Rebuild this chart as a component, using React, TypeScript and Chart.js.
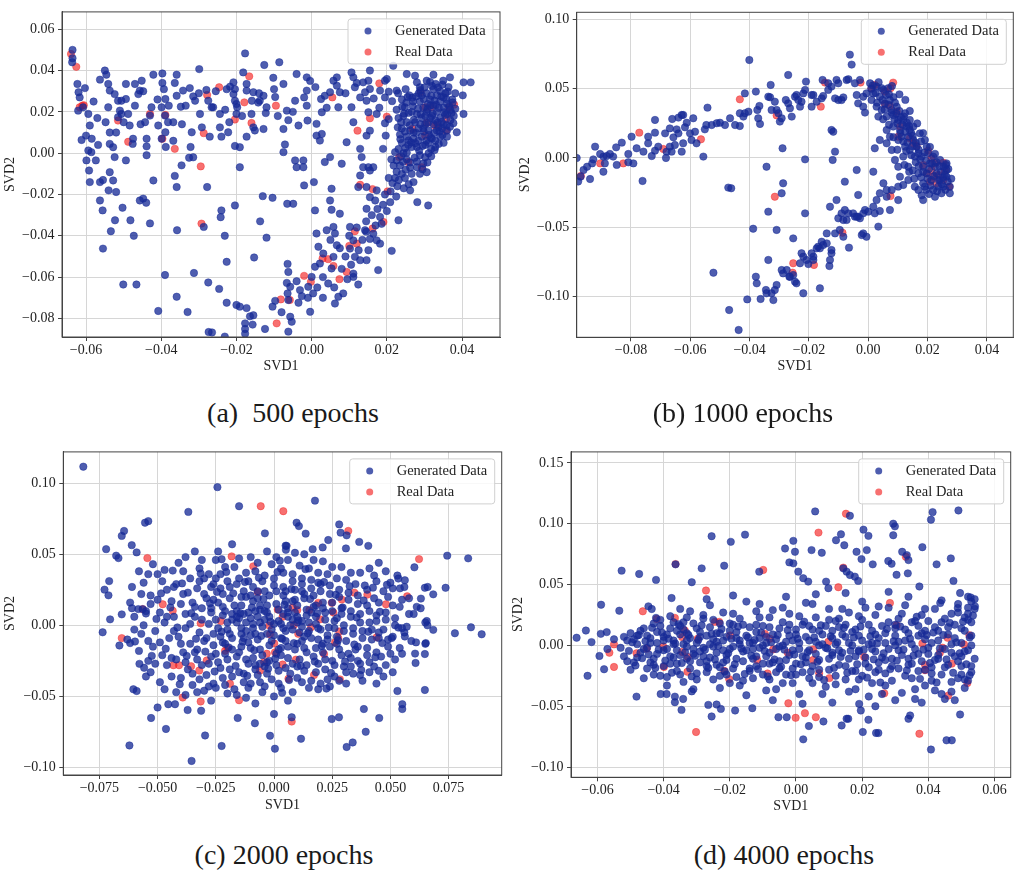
import { useEffect, useRef } from "react";
import { Chart, registerables } from "chart.js";

Chart.register(...registerables);

type Pt = [number, number];

// ---- panel (a) 500 epochs ----
const genA: Pt[] = [
  [-0.0636,0.050],[-0.0637,0.044],[-0.0636,0.046],[-0.0623,0.0335],[-0.062,0.0295],[-0.0603,0.0315],[-0.0617,0.027],[-0.0621,0.0206],[-0.0608,0.0222],[-0.0594,0.019],[-0.059,0.0134],[-0.0612,0.0064],[-0.060,0.0085],[-0.0594,0.0013],[-0.0586,0.0005],[-0.0599,-0.0035],[-0.0592,-0.0084],[-0.059,-0.014],[-0.0574,-0.0035],[-0.0563,-0.0229],[-0.0556,-0.0277],[-0.0555,-0.0462],[-0.0563,-0.014],[-0.0555,-0.013],[-0.055,0.040],[-0.0546,0.038],[-0.0563,0.0356],[-0.0541,0.0335],[-0.0537,0.0303],[-0.0524,0.0286],[-0.0541,0.0222],[-0.0515,0.0254],[-0.051,0.0206],[-0.0537,0.010],[-0.0537,0.0045],[-0.0528,0.0029],[-0.0524,-0.0019],[-0.0537,-0.0092],[-0.0528,-0.0132],[-0.054,-0.018],[-0.052,-0.0188],[-0.0523,-0.0325],[-0.0534,-0.0378],[-0.0506,0.0254],[-0.0494,0.0335],[-0.0494,0.0262],[-0.0515,0.0174],[-0.0506,0.019],[-0.0488,0.019],[-0.0484,0.0134],[-0.0494,-0.0035],[-0.0503,-0.0264],[-0.0482,-0.0325],[-0.0473,-0.040],[-0.0501,-0.0636],[-0.0466,-0.0636],[-0.047,0.0335],[-0.0461,0.0286],[-0.0457,0.0303],[-0.0452,0.0351],[-0.0448,0.030],[-0.0476,0.0045],[-0.0475,0.007],[-0.0457,-0.0229],[-0.0448,-0.022],[-0.044,-0.024],[-0.043,-0.034],[-0.0421,0.038],[-0.0426,0.0222],[-0.043,0.0182],[-0.0443,0.0150],[-0.0439,0.0070],[-0.0439,0.0033],[-0.0439,-0.001],[-0.0421,-0.0132],[-0.0397,0.0386],[-0.0397,0.034],[-0.0393,0.0310],[-0.0389,0.0262],[-0.0399,0.0222],[-0.039,0.0182],[-0.0408,0.0134],[-0.0399,0.007],[-0.0388,0.003],[-0.0389,0.0101],[-0.0382,0.0150],[-0.0368,0.0150],[-0.0359,0.038],[-0.0364,0.034],[-0.0359,0.0278],[-0.0368,0.006],[-0.0364,-0.011],[-0.0359,-0.0164],[-0.0346,-0.0059],[-0.0326,-0.0022],[-0.0315,-0.002],[-0.0358,-0.0373],[-0.039,-0.059],[-0.0359,-0.0695],[-0.0408,-0.0764],[-0.033,-0.0769],[-0.0348,0.0225],[-0.0342,0.0303],[-0.0324,0.0315],[-0.0315,0.0275],[-0.031,0.0254],[-0.0297,0.019],[-0.0292,0.0125],[-0.0319,0.0101],[-0.0322,0.0030],[-0.0299,0.0407],[-0.028,0.0306],[-0.0275,0.0254],[-0.0266,0.0222],[-0.0262,0.0222],[-0.0271,0.0080],[-0.0278,-0.0164],[-0.0287,-0.0357],[-0.0313,-0.058],[-0.0275,-0.0626],[-0.0274,-0.0866],[-0.0265,-0.0868],[-0.0246,-0.0657],[-0.024,-0.0277],[-0.0242,-0.031],[-0.0231,-0.040],[-0.0226,-0.0526],[-0.0226,-0.0724],[-0.0231,-0.0888],[-0.0244,0.0125],[-0.024,0.0080],[-0.0222,0.0101],[-0.0219,0.0150],[-0.0244,0.019],[-0.0217,0.0322],[-0.0208,0.0343],[-0.0204,0.0310],[-0.0200,0.0238],[-0.0200,0.019],[-0.0226,0.0310],[-0.0208,0.0286],[-0.0204,0.0254],[-0.0198,0.0222],[-0.0204,0.0035],[-0.0191,0.0029],[-0.0191,-0.0068],[-0.0204,-0.0253],[-0.0200,-0.0735],[-0.0191,-0.0743],[-0.0173,-0.075],[-0.0177,-0.0824],[-0.0177,-0.0851],[-0.0177,-0.0874],[-0.0164,-0.0790],[-0.0155,-0.0785],[-0.0157,-0.0830],[-0.0177,0.0483],[-0.0182,0.0391],[-0.0173,0.0335],[-0.0173,0.0303],[-0.0155,0.0295],[-0.0173,0.0080],[-0.0155,0.0125],[-0.0151,0.0110],[-0.0159,0.0254],[-0.0142,0.0245],[-0.0138,0.0254],[-0.0153,-0.0505],[-0.0137,-0.033],[-0.013,-0.0208],[-0.0126,0.0427],[-0.0128,0.0278],[-0.012,0.0222],[-0.0122,0.0194],[-0.0128,0.0117],[-0.012,-0.0409],[-0.0124,-0.0851],[-0.0104,-0.0743],[-0.0097,-0.0715],[-0.0102,0.0365],[-0.0100,0.0310],[-0.0097,0.0272],[-0.0104,-0.0216],[-0.0086,0.044],[-0.0075,0.0335],[-0.0066,0.0206],[-0.0062,0.0160],[-0.0075,0.0117],[-0.0071,0.0042],[-0.0075,0.0005],[-0.0065,-0.0245],[-0.0049,-0.0245],[-0.0064,-0.0536],[-0.0062,-0.0575],[-0.0066,-0.0628],[-0.0057,-0.0647],[-0.0064,-0.0679],[-0.0062,-0.0711],[-0.0057,-0.0792],[-0.0053,-0.0816],[-0.0062,-0.0864],[-0.004,0.0383],[-0.0044,0.0254],[-0.0035,0.0134],[-0.0044,-0.0035],[-0.004,-0.0068],[-0.0022,-0.0035],[-0.0022,-0.0068],[-0.002,-0.0156],[-0.0013,0.0303],[-0.0013,0.0230],[-0.0011,0.0158],[-0.0013,0.0367],[-0.0004,0.0350],[0.0009,-0.0277],[0.0006,-0.0140],[0.0013,-0.0389],[0.0018,-0.0453],[0.0022,-0.0534],[0.0009,-0.0550],[0.0000,-0.0599],[-0.0009,-0.0647],[0.0004,-0.0679],[-0.0004,-0.0768],[-0.0031,-0.0663],[-0.0026,-0.0692],[-0.0035,-0.0724],[0.0013,0.0085],[0.0022,0.0061],[0.0027,0.0093],[0.0013,0.0142],[0.0027,0.0198],[0.0025,0.0262],[0.0035,0.0278],[0.0049,0.0295],[0.0058,0.0351],[0.0067,0.0327],[0.0035,-0.0043],[0.0049,-0.0019],[0.0053,-0.0172],[0.0049,-0.0229],[0.0053,-0.0274],[0.0040,-0.0373],[0.0058,-0.0357],[0.0062,-0.0389],[0.0067,-0.0446],[0.0031,-0.0486],[0.0058,-0.0502],[0.0053,-0.0558],[0.0044,-0.0631],[0.0062,-0.0728],[0.0071,-0.0695],[0.0084,-0.0679],[0.0075,-0.0293],[0.008,-0.0051],[0.0071,0.0222],[0.0075,0.0295],[0.0067,0.0367],[0.0093,0.0053],[0.0106,0.0391],[0.0111,0.0367],[0.0115,0.0319],[0.0106,0.0222],[0.0111,0.0150],[0.0129,0.0270],[0.0142,0.0295],[0.0137,0.0343],[0.0129,0.0021],[0.0133,-0.0019],[0.0137,-0.0068],[0.0129,-0.0108],[0.0124,-0.0164],[0.0102,-0.0357],[0.0111,-0.0422],[0.0102,-0.0462],[0.0115,-0.0502],[0.0129,-0.0518],[0.0111,-0.0583],[0.0124,-0.0636],[0.0111,-0.0599],[0.0155,0.040],[0.0151,0.0351],[0.0155,0.0311],[0.0146,0.0254],[0.0151,0.0198],[0.0155,0.0109],[0.0146,0.0085],[0.0151,-0.0068],[0.0155,-0.0084],[0.0164,-0.0068],[0.0146,-0.0164],[0.0155,-0.0213],[0.0169,-0.0229],[0.0173,-0.0180],[0.0146,-0.0269],[0.0142,-0.0373],[0.0155,-0.0415],[0.0164,-0.0390],[0.0173,-0.0422],[0.0182,-0.0438],[0.0151,-0.0470],[0.0146,-0.0518],[0.0177,-0.0566],[0.0182,-0.0309],[0.0186,-0.0342],[0.019,0.0021],[0.0182,0.0303],[0.0195,0.0351],[0.020,0.0359],[0.0173,0.0190],[0.0209,-0.0237],[0.0213,-0.0473],[0.0231,-0.0325],[0.0217,0.0423],[0.0226,0.0303],[0.0248,0.0222],[0.0253,0.0383],[0.0275,0.0375],[0.0280,0.0343],[0.0288,0.0319],[0.0306,0.0351],[0.0324,0.0380],[0.0350,0.0351],[0.0368,0.0367],[0.0382,0.029],[0.0404,0.0343],[0.0423,0.0343],[0.0402,0.028],[0.0404,0.019],[0.0386,0.0101],[0.0281,-0.0237],[0.031,-0.0253],[0.0262,-0.0180],[0.0271,-0.0140],[0.0288,-0.0100],[0.0306,-0.0092],[0.0280,-0.0068],
  [0.0226,-0.0035],[0.0235,-0.0060],[0.0240,-0.0100],[0.0248,-0.0120],[0.0226,-0.0090],[0.0222,-0.0120],[0.0231,0.0020],[0.0240,0.0050],[0.0244,0.0000],[0.0253,-0.0030],[0.0262,-0.0070],[0.0266,0.0030],[0.0253,0.0080],[0.0240,0.0120],[0.0231,0.0170],[0.0226,0.0210],[0.0244,0.0180],[0.0253,0.0150],[0.0262,0.0110],[0.0271,0.0070],[0.0280,0.0030],[0.0288,-0.0010],[0.0297,-0.0050],[0.0275,0.0150],[0.0284,0.0120],[0.0293,0.0080],[0.0302,0.0040],[0.0311,0.0000],[0.0266,0.0200],[0.0280,0.0190],[0.0293,0.0170],[0.0302,0.0140],[0.0311,0.0110],[0.0320,0.0070],[0.0329,0.0030],[0.0288,0.0250],[0.0297,0.0220],[0.0306,0.0200],[0.0315,0.0170],[0.0324,0.0140],[0.0333,0.0110],[0.0342,0.0080],[0.0351,0.0050],[0.0306,0.0290],[0.0315,0.0260],[0.0324,0.0230],[0.0333,0.0200],[0.0342,0.0170],[0.0351,0.0140],[0.0360,0.0110],[0.0324,0.0310],[0.0333,0.0280],[0.0342,0.0250],[0.0351,0.0220],[0.0360,0.0190],[0.0369,0.0160],[0.0342,0.0300],[0.0351,0.0270],[0.0360,0.0240],[0.0369,0.0210],[0.0378,0.0180],[0.0364,0.0320],[0.0374,0.0260],[0.0311,0.0050],[0.0320,0.0180],[0.0297,0.0120],[0.0284,0.0060],[0.0271,0.0100],[0.0257,0.0040],[0.0235,0.0090],[0.0329,0.0160],[0.0338,0.0220],[0.0315,0.0230],[0.0302,0.0180],[0.0293,0.0280],[0.0356,0.0290],[0.0347,0.0120],[0.0329,0.0060],[0.0360,0.0080],[0.0250,-0.0080],[0.0280,-0.0040],[0.0266,-0.0100],[0.0302,-0.0020],[0.0318,0.0020],[0.0230,0.0290],[0.0240,0.0260],[0.0250,0.0310],[0.0260,0.0280],[0.0270,0.0250],[0.0315,0.0345],[0.0330,0.0335],
  [0.0215,-0.0145],[0.0228,-0.0160],[0.0245,-0.0170],[0.0258,-0.0150],[0.0232,-0.0130],[0.0218,-0.0060],[0.0222,0.0005],[0.0238,-0.0015],[0.0249,0.0025],[0.0258,0.0062],[0.0236,0.0068],[0.0229,0.0125],[0.0248,0.0105],[0.0261,0.0135],[0.0272,0.0162],[0.0258,0.0195],[0.0241,0.0225],[0.0252,0.0245],[0.0269,0.0228],[0.0283,0.0215],[0.0278,0.0275],[0.0289,0.0305],[0.0298,0.0262],[0.0309,0.0238],[0.0318,0.0278],[0.0327,0.0255],[0.0336,0.0318],[0.0345,0.0275],[0.0358,0.0262],[0.0366,0.0228],[0.0372,0.0195],[0.0355,0.0185],[0.0346,0.0152],[0.0338,0.0125],[0.0326,0.0098],[0.0317,0.0075],[0.0305,0.0060],[0.0295,0.0035],[0.0286,0.0012],[0.0274,-0.0022],[0.0262,-0.0045],[0.0295,-0.0078],[0.0308,-0.0045],[0.0318,-0.0015],[0.0327,0.0015],[0.0338,0.0045],[0.0348,0.0088],[0.0359,0.0135],[0.0368,0.0128],[0.0377,0.0145],[0.0382,0.0215],[0.0375,0.0245],[0.0362,0.0298],[0.0348,0.0332],[0.0320,0.0325],[0.0300,0.0318],[0.0285,0.0290],[0.0268,0.0268],[0.0255,0.0272],[0.0246,0.0192],[0.0238,0.0150],[0.0289,0.0140],[0.0298,0.0105],[0.0310,0.0148],[0.0322,0.0192],[0.0331,0.0235],[0.0308,0.0213],[0.0290,0.0188],[0.0278,0.0098],[0.0265,0.0052],[0.0253,0.0002],[0.0243,-0.0042],[0.0276,0.0048],[0.0312,0.0088],[0.0335,0.0148],[0.0352,0.0198],[0.0340,0.0105],[0.0210,-0.0185],[0.0225,-0.0210],[0.0205,-0.0120],[0.0212,-0.0030],[0.0197,0.0085],[0.0205,0.0165],[0.0214,0.0252],[0.0205,0.0298],[0.0195,0.0145],
  [-0.0580,0.0250],[-0.0570,0.0170],[-0.0585,0.0070],[-0.0568,0.0040],[-0.0548,0.0150],[-0.0520,0.0100],[-0.0500,0.0150],[-0.0470,0.0230],[-0.0455,0.0140],[-0.0410,0.0260],[-0.0380,0.0230],[-0.0345,0.0140],[-0.0335,0.0230],[-0.0300,0.0290],[-0.0255,0.0300],[-0.0230,0.0210],[-0.0185,0.0180],[-0.0160,0.0190],[-0.0140,0.0290],[-0.0090,0.0180],[-0.0050,0.0200],[-0.0020,0.0270],[0.0010,0.0320],[0.0040,0.0220],[0.0090,0.0290],[0.0120,0.0340],[0.0165,0.0265],[0.0180,0.0220],[0.0195,0.0270],
  [0.0030,-0.0600],[0.0015,-0.0650],[0.0080,-0.0560],[0.0090,-0.0500],[0.0075,-0.0460],[0.0100,-0.0400],[0.0120,-0.0360],[0.0135,-0.0420],[0.0145,-0.0330],[0.0160,-0.0300],[0.0175,-0.0270],[0.0190,-0.0250],[0.0195,-0.0200],[0.0200,-0.0280],[0.0170,-0.0350],[0.0125,-0.0470],[0.0095,-0.0610],[-0.0010,-0.0700],[-0.0040,-0.0620],[-0.0080,-0.0770],[0.0060,-0.0650],[0.0030,-0.0700],[0.0105,-0.0540],[0.0050,-0.0420],[0.0145,-0.0380],
];
const realA: Pt[] = [
  [-0.064,0.048],[-0.0626,0.0418],[-0.0617,0.0222],[-0.061,0.023],[-0.0606,0.0232],[-0.0515,0.0158],[-0.0488,0.0055],[-0.043,0.019],[-0.0397,0.007],[-0.0389,0.0185],[-0.0364,0.0021],[-0.0295,-0.0064],[-0.0293,-0.0341],[-0.0287,0.0097],[-0.0278,0.0282],[-0.0246,0.0319],[-0.0204,0.0163],[-0.0179,0.0246],[-0.0166,0.0372],[-0.016,0.0146],[-0.0095,0.023],[-0.0093,-0.0824],[-0.0082,-0.0708],[-0.0058,-0.0711],[-0.002,-0.0594],[-0.0002,-0.0623],[0.0029,-0.051],[0.0044,-0.0513],[0.0055,0.027],[0.0058,-0.0546],[0.0074,-0.061],[0.0093,-0.0575],[0.01,-0.0449],[0.0115,-0.0378],[0.012,-0.0438],[0.0122,0.0109],[0.0129,-0.0153],[0.0155,0.0169],[0.0162,-0.0174],[0.0162,-0.0365],[0.018,0.0338],[0.0191,-0.0333],[0.02,0.0177],[0.0202,-0.0185],[0.0233,-0.0019],[0.0257,-0.0043],[0.0268,0.0117],[0.029,0.0296],[0.0293,-0.0068],[0.0302,0.0085],[0.0306,0.0146],[0.0302,0.0222],[0.0317,0.0222],[0.0328,0.0134],[0.0335,0.0137],[0.0358,0.0166],[0.0358,0.0109],[0.0366,0.0222],[0.0379,0.0235],
];

// ---- panel (b) 1000 epochs ----
const genB: Pt[] = [
  [-0.0983,0.000],[-0.0978,-0.017],[-0.097,-0.0135],[-0.096,-0.0087],[-0.0948,-0.0063],[-0.0931,-0.0039],[-0.0927,-0.001],[-0.0938,-0.0152],[-0.0921,0.0082],[-0.0904,0.0029],[-0.0893,0.001],[-0.0888,-0.0039],[-0.0882,0.0014],[-0.0871,0.0029],[-0.086,0.001],[-0.0848,-0.005],[-0.0893,-0.0099],[-0.085,0.0077],[-0.0831,0.0111],[-0.0809,0.0029],[-0.0809,-0.0031],[-0.0792,-0.0039],[-0.0781,0.007],[-0.0758,0.0046],[-0.0761,-0.0166],[-0.0798,0.0154],[-0.0742,0.0154],[-0.0742,0.0106],[-0.073,0.0014],[-0.0719,0.0053],[-0.0719,0.0275],[-0.0719,0.0183],[-0.0708,0.0082],[-0.0682,0.000],[-0.068,0.0046],[-0.0669,0.0082],[-0.0663,0.0046],[-0.0657,0.0149],[-0.0652,0.0094],[-0.0685,0.0178],[-0.0669,0.0214],[-0.0661,0.0282],[-0.0646,0.0207],[-0.064,0.0178],[-0.0629,0.0046],[-0.0624,0.0106],[-0.0618,0.0222],[-0.064,0.0292],[-0.0629,0.0311],[-0.0624,0.0311],[-0.0612,0.0255],[-0.059,0.0287],[-0.0601,0.0178],[-0.0596,0.013],[-0.0584,0.019],[-0.0579,0.0106],[-0.0556,0.001],[-0.0551,0.0207],[-0.0546,0.0238],[-0.0542,0.0364],[-0.0528,0.0238],[-0.0511,0.0251],[-0.05,0.0255],[-0.0483,0.0238],[-0.0466,0.0287],[-0.0449,0.0238],[-0.0433,0.0231],[-0.0433,0.0323],[-0.0472,-0.0214],[-0.0522,-0.0829],[-0.0469,-0.1099],[-0.0437,-0.1243],[-0.0416,0.0467],[-0.0401,0.0708],[-0.0421,0.0299],[-0.0416,0.0323],[-0.0404,0.0335],[-0.0379,0.048],[-0.0374,0.0347],[-0.0367,0.0376],[-0.0371,0.0287],[-0.0365,0.0246],[-0.0343,-0.0063],[-0.0337,0.0443],[-0.0331,0.0439],[-0.0326,0.0347],[-0.0315,0.0407],[-0.0309,0.0347],[-0.0303,0.0323],[-0.0298,0.0263],[-0.0292,0.0287],[-0.0329,0.0528],[-0.0289,0.007],[-0.027,0.060],[-0.0278,0.0419],[-0.027,0.0395],[-0.0264,0.0359],[-0.0258,0.0299],[-0.0247,0.0443],[-0.0242,0.0455],[-0.0236,0.0419],[-0.023,0.0371],[-0.0225,0.0407],[-0.0219,0.0467],[-0.0213,0.0492],[-0.021,0.0552],[-0.0191,0.0455],[-0.0185,0.0455],[-0.0174,0.0407],[-0.0191,0.0371],[-0.0157,0.0431],[-0.0152,0.0448],[-0.0135,0.0492],[-0.0124,0.0516],[-0.0112,0.0431],[-0.0101,0.0419],[-0.009,0.0419],[-0.0084,0.0438],[-0.0213,-0.001],[-0.0124,0.0202],[-0.0118,0.019],[-0.0112,0.0046],[-0.012,-0.0014],[-0.0154,0.0564],[-0.0135,0.054],[-0.0107,0.0564],[-0.0101,0.054],[-0.0073,0.0564],[-0.0067,0.0569],[-0.0062,0.0747],[-0.0056,0.0675],[-0.0045,0.054],[-0.0039,0.0455],[-0.0034,0.0395],[-0.0028,0.0564],[-0.0017,0.0371],[-0.0011,0.0328],[-0.0017,0.0443],[-0.0006,0.0467],
  [0.0006,0.054],[0.0017,0.0467],[0.0028,0.0516],[0.0011,0.0419],[0.0039,0.0443],[0.0051,0.0492],[0.0067,0.0504],[0.0028,0.0371],[0.0045,0.0347],[0.0056,0.0395],[0.0073,0.0419],[0.0079,0.0347],[0.0034,0.0299],[0.0062,0.0299],[0.0084,0.0311],[0.0096,0.0371],[0.0101,0.0275],[0.0084,0.0227],[0.0107,0.0202],[0.0118,0.0275],[0.0129,0.0227],[0.0112,0.0154],[0.0135,0.0154],[0.014,0.0202],[0.0152,0.013],[0.0124,0.0082],[0.014,0.0058],[0.0163,0.0082],[0.0169,0.0034],[0.0157,0.001],[0.018,0.001],[0.0185,-0.0063],[0.0202,0.0034],[0.0208,-0.0039],[0.0225,-0.0063],[0.0197,-0.0111],[0.0213,-0.0159],[0.023,-0.0111],[0.0242,-0.0159],[0.0253,-0.0207],[0.0264,-0.0135],[0.0275,-0.0207],[0.0236,-0.0207],[0.0247,-0.0255],[0.0219,-0.0231],[0.0185,-0.0183],[0.0169,-0.0111],[0.0135,-0.0063],[0.0118,0.001],[0.0107,-0.0135],[0.0101,-0.0063],[0.009,-0.0014],[0.0079,0.0058],[0.0062,0.0106],[0.0039,0.013],[0.0022,0.007],[0.0062,0.0202],[0.0073,0.0154],[0.0101,0.013],[0.0124,0.0323],[0.014,0.0275],[0.0152,0.0227],[0.0174,0.0178],[0.0191,0.013],[0.0197,0.0082],[0.0219,0.001],[0.0242,-0.0014],[0.0253,-0.0063],[0.0264,-0.0039],[0.0191,-0.0207],[0.0157,-0.0207],[0.0135,-0.0159],[0.0118,-0.0195],[0.0101,-0.0207],[0.0185,-0.0304],[0.0169,-0.0231],[0.0225,-0.028],[0.0264,-0.0087],[0.0275,-0.0255],
  [0.0015,0.0525],[0.0035,0.0548],[0.0045,0.0505],[0.0025,0.0470],[0.0060,0.0455],[0.0048,0.0420],[0.0070,0.0460],[0.0085,0.0440],[0.0068,0.0385],[0.0090,0.0400],[0.0055,0.0350],[0.0078,0.0330],[0.0095,0.0320],[0.0105,0.0340],[0.0088,0.0280],[0.0110,0.0295],[0.0120,0.0300],[0.0098,0.0250],[0.0115,0.0240],[0.0130,0.0255],[0.0138,0.0230],[0.0108,0.0180],[0.0125,0.0190],[0.0145,0.0180],[0.0118,0.0120],[0.0132,0.0110],[0.0150,0.0160],[0.0160,0.0110],[0.0128,0.0050],[0.0148,0.0085],[0.0170,0.0060],[0.0178,0.0120],[0.0145,0.0020],[0.0160,-0.0030],[0.0175,-0.0010],[0.0190,0.0040],[0.0195,-0.0020],[0.0150,-0.0090],[0.0170,-0.0060],[0.0185,-0.0100],[0.0205,-0.0080],[0.0215,-0.0040],[0.0230,-0.0030],[0.0178,-0.0140],[0.0200,-0.0150],[0.0222,-0.0130],[0.0245,-0.0100],[0.0258,-0.0120],[0.0268,-0.0170],[0.0248,-0.0190],[0.0232,-0.0240],[0.0210,-0.0200],[0.0195,-0.0230],[0.0260,-0.0230],[0.0270,-0.0080],[0.0240,-0.0060],[0.0280,-0.0150],[0.0205,-0.0260],[0.0180,-0.0270],[0.0155,-0.0150],[0.0138,-0.0100],[0.0122,-0.0050],[0.0098,0.0060],[0.0085,0.0150],[0.0070,0.0240],[0.0050,0.0280],[0.0030,0.0400],[0.0010,0.0500],[0.0105,0.0460],[0.0080,0.0520],[0.0125,0.0420],[0.0140,0.0340],[0.0165,0.0250],[0.0185,0.0180],[0.0208,0.0080],[0.0225,0.0030],[0.0238,-0.0160],[0.0252,-0.0140],[0.0262,-0.0050],
  [-0.0408,-0.1022],[-0.0388,-0.0511],[-0.0379,-0.0858],[-0.0376,-0.0906],[-0.0363,-0.1019],[-0.0345,-0.0954],[-0.0343,-0.0978],[-0.0337,-0.0737],[-0.0337,-0.0388],[-0.0326,-0.0978],[-0.032,-0.1027],[-0.0315,-0.0954],[-0.0309,-0.0918],[-0.0292,-0.081],[-0.0287,-0.0834],[-0.0275,-0.081],[-0.0266,-0.0858],[-0.0264,-0.0858],[-0.0253,-0.0846],[-0.0247,-0.0894],[-0.0242,-0.0906],[-0.023,-0.0761],[-0.0225,-0.0689],[-0.0219,-0.0713],[-0.0219,-0.0978],[-0.0208,-0.0737],[-0.0202,-0.0767],[-0.0191,-0.0689],[-0.0185,-0.0713],[-0.0185,-0.0737],[-0.0174,-0.0653],[-0.0169,-0.0641],[-0.0163,-0.0653],[-0.0157,-0.0605],[-0.0152,-0.0629],[-0.014,-0.0617],[-0.014,-0.0545],[-0.0131,-0.0781],[-0.0129,-0.0737],[-0.0129,-0.0352],[-0.0124,-0.0689],[-0.0124,-0.0665],[-0.0112,-0.0545],[-0.0107,-0.0304],[-0.0101,-0.0436],[-0.0096,-0.052],[-0.009,-0.04],[-0.0084,-0.0448],[-0.0084,-0.0569],[-0.0079,-0.0376],[-0.0079,-0.0171],[-0.0073,-0.0448],[-0.0065,-0.0648],[-0.0067,-0.04],[-0.0051,-0.04],[-0.0045,-0.0424],[-0.0039,-0.0424],[-0.0039,-0.0087],[-0.0034,-0.0424],[-0.0034,-0.0267],[-0.0028,-0.0436],[-0.0022,-0.0557],[-0.0017,-0.0545],[-0.0017,-0.04],[-0.0011,-0.0376],[-0.0006,-0.0569],[0.0,-0.0388],[0.0017,-0.0352],[0.0017,-0.0099],[0.0022,-0.04],[0.0028,-0.0304],[0.0034,-0.0496],[0.0039,-0.0383],[0.0062,-0.0231],[0.0079,-0.0231],[0.0062,-0.028],[0.0039,-0.0255],[0.0051,-0.0183],[0.0073,-0.0376],[0.0101,-0.0304],[-0.0253,-0.0581],[-0.0287,-0.0183],[-0.0292,-0.0255],[-0.0309,-0.052],[-0.0213,-0.04],[-0.0163,-0.0942],[-0.0462,-0.0219],
];
const realB: Pt[] = [
  [-0.0969,-0.013],[-0.0904,-0.0039],[-0.0826,-0.0039],[-0.0772,0.0183],[-0.0691,0.0065],[-0.0564,0.0135],[-0.0433,0.0424],[-0.0309,0.0308],[-0.0315,-0.028],[-0.0253,-0.0761],[-0.0255,-0.0829],[-0.0183,-0.0773],[-0.016,0.0371],[-0.0146,0.0545],[-0.0087,-0.054],[-0.0026,0.0545],[0.0011,0.0504],[0.0022,0.0528],[0.0056,0.048],[0.0056,0.039],[0.0073,0.0376],[0.0075,0.0504],[0.0084,0.0545],[0.0075,-0.0275],[0.0096,0.0335],[0.0107,0.0227],[0.0101,0.0154],[0.014,0.0142],[0.0152,0.0106],[0.0163,0.0087],[0.0185,-0.0051],[0.0202,0.0053],[0.0197,-0.0111],[0.0213,-0.0087],[0.0219,-0.0135],[0.0208,-0.0171],[0.023,-0.0183],[0.0236,-0.0123],[0.0253,-0.0159],[0.0253,-0.0034],[0.0258,-0.0092],[0.0273,-0.0207],[0.0213,-0.0002],[0.0225,-0.0039],
];

// ---- panel (c) 2000 epochs ----
const genC: Pt[] = [
  [-0.0819,0.1116],[-0.0243,0.0972],[-0.015,0.0838],[0.0176,0.0877],[-0.0368,0.0798],[-0.0554,0.0722],[-0.054,0.0733],[-0.0644,0.0664],[-0.0654,0.0629],[-0.0721,0.0536],[-0.0678,0.049],[-0.0668,0.0473],[-0.0611,0.0564],[-0.059,0.0513],[-0.0728,0.0251],[-0.0711,0.0211],[-0.0708,0.0311],[-0.0704,0.0042],[-0.0736,-0.0049],[-0.0664,-0.0142],[-0.0654,0.0077],[-0.0618,0.016],[-0.0583,0.0114],[-0.0564,0.0114],[-0.055,0.0083],[-0.0618,-0.0125],[-0.0597,-0.0114],[-0.0578,-0.0271],[-0.0558,-0.0299],[-0.0604,-0.045],[-0.059,-0.0462],[-0.0621,-0.0845],[-0.0528,-0.0652],[-0.05,-0.0578],[-0.0464,-0.0729],[-0.0454,-0.0555],[-0.0425,-0.0555],[-0.0371,-0.0596],[-0.0354,-0.0954],[-0.0296,-0.0775],[-0.0313,-0.0601],[-0.0225,-0.0849],[-0.0156,-0.0652],[-0.0082,-0.0689],[-0.0017,-0.0777],[0.0004,-0.0868],[0.0,-0.0624],[0.0076,-0.0647],[0.0116,-0.0798],[0.0312,-0.0856],[0.0338,-0.0824],[0.0394,-0.0749],[0.0452,-0.0652],[0.0386,-0.0589],[0.0279,-0.0647],[0.0248,-0.0659],[0.053,-0.0462],[0.0551,-0.0555],[0.0551,-0.0589],[0.0648,-0.0455],[0.0608,-0.0265],[0.0648,-0.0202],[0.0606,-0.0199],[0.0652,-0.0125],[0.0684,-0.0032],[0.0777,-0.0056],[0.0846,-0.0014],[0.0892,-0.0063],[0.0834,0.0471],[0.0744,0.049],[0.0737,0.0264],[0.0684,0.0218],[0.0603,0.0408],[0.0648,0.0264],[0.0631,0.0188],[0.0613,0.013],[0.0656,0.003],[0.0659,0.0],[0.0405,0.0559],[0.0366,0.0587],[0.0312,0.0633],[0.0286,0.0652],[0.028,0.071],[0.0309,0.0541],[0.0097,0.0722],[0.0107,0.0698],[0.0136,0.0645],[-0.0039,0.0647],[0.0054,0.0559],[0.0051,0.0531],[0.0166,0.0536],[0.0209,0.0548],[0.0233,0.06],[0.0534,0.0329],[0.0562,0.0317],[0.0541,0.026],[0.0534,-0.0016],[0.0562,-0.0079],[0.0505,-0.009],
  [-0.052,0.043],[-0.048,0.031],[-0.050,0.036],[-0.046,0.025],[-0.053,0.021],[-0.044,0.017],[-0.049,0.009],[-0.047,0.002],[-0.051,-0.004],[-0.045,-0.009],[-0.052,-0.015],[-0.048,-0.021],[-0.046,-0.028],[-0.053,-0.033],[-0.049,-0.040],[-0.044,-0.036],[-0.041,0.044],[-0.039,0.038],[-0.042,0.029],[-0.037,0.023],[-0.040,0.015],[-0.043,0.006],[-0.038,-0.002],[-0.041,-0.008],[-0.036,-0.013],[-0.039,-0.019],[-0.042,-0.024],[-0.037,-0.031],[-0.040,-0.037],[-0.035,-0.042],[-0.038,-0.049],[-0.034,0.052],[-0.032,0.040],[-0.030,0.033],[-0.033,0.026],[-0.029,0.019],[-0.031,0.012],[-0.034,0.006],[-0.028,0.001],[-0.032,-0.005],[-0.030,-0.011],[-0.033,-0.017],[-0.027,-0.022],[-0.031,-0.028],[-0.029,-0.035],[-0.026,-0.041],[-0.030,-0.046],[-0.027,-0.053],[-0.025,0.046],[-0.023,0.036],[-0.026,0.029],[-0.022,0.022],[-0.024,0.016],[-0.021,0.010],[-0.025,0.004],[-0.020,-0.003],[-0.023,-0.008],[-0.026,-0.014],[-0.021,-0.020],[-0.024,-0.026],[-0.019,-0.031],[-0.022,-0.037],[-0.025,-0.044],[-0.020,-0.048],[-0.018,0.057],[-0.017,0.041],[-0.015,0.033],[-0.019,0.027],[-0.014,0.020],[-0.017,0.014],[-0.013,0.008],[-0.016,0.002],[-0.012,-0.004],[-0.018,-0.009],[-0.014,-0.015],[-0.016,-0.022],[-0.011,-0.027],[-0.015,-0.033],[-0.013,-0.040],[-0.017,-0.045],[-0.012,-0.051],[-0.010,0.048],[-0.008,0.038],[-0.011,0.031],[-0.007,0.024],[-0.009,0.017],[-0.006,0.011],[-0.010,0.005],[-0.005,-0.001],[-0.008,-0.006],[-0.011,-0.012],[-0.006,-0.017],[-0.009,-0.023],[-0.004,-0.029],[-0.007,-0.035],[-0.010,-0.041],[-0.005,-0.047],[-0.008,-0.055],[-0.003,0.052],[-0.001,0.043],[-0.004,0.035],[0.000,0.028],[-0.002,0.021],[0.001,0.015],[-0.003,0.009],[0.002,0.003],[-0.001,-0.003],[0.003,-0.009],[-0.002,-0.014],[0.001,-0.020],[-0.003,-0.026],[0.002,-0.032],[-0.001,-0.038],[0.003,-0.044],[0.000,-0.050],[0.005,0.056],[0.006,0.046],[0.004,0.037],[0.008,0.031],[0.005,0.024],[0.009,0.018],[0.006,0.012],[0.010,0.006],[0.007,0.000],[0.011,-0.005],[0.005,-0.011],[0.009,-0.017],[0.006,-0.023],[0.010,-0.029],[0.007,-0.034],[0.012,-0.040],[0.008,-0.047],[0.013,0.050],[0.015,0.040],[0.012,0.033],[0.016,0.026],[0.013,0.019],[0.017,0.013],[0.014,0.007],[0.018,0.001],[0.015,-0.004],[0.019,-0.010],[0.013,-0.016],[0.017,-0.022],[0.014,-0.028],[0.018,-0.033],[0.016,-0.039],[0.019,-0.045],[0.021,0.045],[0.023,0.036],[0.020,0.029],[0.024,0.022],[0.021,0.016],[0.025,0.010],[0.022,0.004],[0.026,-0.002],[0.023,-0.007],[0.027,-0.013],[0.021,-0.019],[0.025,-0.025],[0.022,-0.031],[0.026,-0.036],[0.024,-0.043],[0.029,0.041],[0.031,0.032],[0.028,0.025],[0.032,0.018],[0.029,0.012],[0.033,0.006],[0.030,0.000],[0.034,-0.006],[0.031,-0.011],[0.028,-0.017],[0.033,-0.023],[0.030,-0.029],[0.034,-0.034],[0.031,-0.041],[0.037,0.037],[0.039,0.028],[0.036,0.021],[0.040,0.014],[0.037,0.008],[0.041,0.002],[0.038,-0.004],[0.042,-0.010],[0.036,-0.015],[0.040,-0.021],[0.037,-0.027],[0.041,-0.033],[0.038,-0.039],[0.045,0.044],[0.044,0.031],[0.047,0.024],[0.045,0.016],[0.048,0.009],[0.044,0.003],[0.047,-0.003],[0.045,-0.009],[0.049,-0.015],[0.046,-0.022],[0.043,-0.029],[0.047,-0.036],[0.044,-0.041],[0.053,0.035],[0.051,0.026],[0.054,0.013],[0.052,0.005],[0.055,-0.002],[0.051,-0.008],[0.054,-0.016],[0.052,-0.024],[0.058,0.019],[0.060,0.008],[0.057,-0.001],[0.061,-0.012],[0.063,0.012],[0.065,0.002],[0.065,-0.013],[0.066,0.027],[-0.056,0.030],[-0.055,0.010],[-0.057,-0.006],[-0.054,-0.025],[-0.058,0.038],[-0.060,-0.003],[-0.061,0.012],
  [-0.012,0.002],[-0.009,-0.002],[-0.014,-0.006],[0.004,0.008],[0.012,-0.001],[0.008,0.004],[-0.004,0.004],[0.016,0.009],[-0.018,0.004],[0.020,-0.003],[-0.006,0.014],[0.003,-0.016],[-0.016,0.010],[0.027,0.005],[0.012,0.024],[-0.021,-0.013],[0.019,0.030],[-0.027,0.012],[0.004,0.021],[-0.008,-0.028],
  [-0.047,0.039],[-0.043,0.027],[-0.050,0.018],[-0.046,0.006],[-0.043,-0.004],[-0.049,-0.012],[-0.044,-0.023],[-0.051,-0.027],[-0.047,-0.045],[-0.042,-0.047],[-0.038,0.048],[-0.036,0.033],[-0.039,0.022],[-0.035,0.016],[-0.038,0.008],[-0.036,0.001],[-0.040,-0.013],[-0.034,-0.019],[-0.038,-0.026],[-0.035,-0.034],[-0.033,-0.047],[-0.031,0.046],[-0.028,0.036],[-0.032,0.031],[-0.027,0.027],[-0.030,0.022],[-0.034,0.013],[-0.027,0.009],[-0.031,0.004],[-0.029,-0.009],[-0.026,-0.006],[-0.033,-0.024],[-0.028,-0.027],[-0.032,-0.038],[-0.028,-0.043],[-0.024,0.052],[-0.021,0.041],[-0.025,0.033],[-0.020,0.031],[-0.023,0.026],[-0.019,0.019],[-0.022,0.013],[-0.026,0.018],[-0.018,0.008],[-0.024,-0.002],[-0.019,-0.006],[-0.022,-0.012],[-0.018,-0.017],[-0.025,-0.020],[-0.020,-0.024],[-0.023,-0.030],[-0.018,-0.036],[-0.021,-0.042],[-0.016,-0.049],[-0.015,0.047],[-0.012,0.037],[-0.016,0.029],[-0.013,0.024],[-0.010,0.021],[-0.014,0.014],[-0.011,0.009],[-0.015,0.005],[-0.009,0.001],[-0.013,-0.009],[-0.010,-0.016],[-0.015,-0.019],[-0.012,-0.024],[-0.008,-0.031],[-0.013,-0.034],[-0.011,-0.044],[-0.006,-0.040],[-0.007,0.044],[-0.005,0.031],[-0.009,0.027],[-0.004,0.024],[-0.007,0.019],[-0.003,0.014],[-0.008,0.010],[-0.002,0.006],[-0.006,0.002],[-0.003,-0.006],[-0.007,-0.010],[-0.001,-0.011],[-0.005,-0.021],[-0.002,-0.025],[-0.006,-0.027],[-0.003,-0.034],[-0.004,-0.043],[0.001,0.048],[0.003,0.040],[0.000,0.033],[0.004,0.027],[0.001,0.024],[0.005,0.017],[0.002,0.011],[0.006,0.006],[0.003,0.001],[0.000,-0.007],[0.005,-0.004],[0.002,-0.017],[0.006,-0.015],[0.001,-0.028],[0.005,-0.030],[0.002,-0.041],[0.006,-0.053],[0.009,0.051],[0.011,0.042],[0.008,0.036],[0.012,0.029],[0.009,0.025],[0.013,0.022],[0.010,0.014],[0.014,0.011],[0.009,0.009],[0.012,0.003],[0.008,-0.003],[0.013,-0.008],[0.010,-0.013],[0.014,-0.019],[0.011,-0.024],[0.008,-0.027],[0.013,-0.032],[0.010,-0.037],[0.015,-0.044],[0.017,0.046],[0.019,0.037],[0.016,0.032],[0.020,0.024],[0.017,0.021],[0.021,0.012],[0.018,0.006],[0.022,0.009],[0.019,-0.002],[0.016,-0.009],[0.021,-0.013],[0.018,-0.016],[0.022,-0.024],[0.019,-0.027],[0.023,-0.038],[0.020,-0.041],[0.025,0.041],[0.027,0.033],[0.024,0.028],[0.028,0.020],[0.025,0.016],[0.029,0.008],[0.026,0.003],[0.030,-0.004],[0.027,-0.008],[0.024,-0.015],[0.029,-0.021],[0.026,-0.028],[0.031,-0.033],[0.028,-0.039],[0.033,0.037],[0.035,0.029],[0.032,0.023],[0.036,0.015],[0.033,0.010],[0.037,0.002],[0.034,-0.002],[0.038,-0.009],[0.035,-0.017],[0.032,-0.020],[0.036,-0.025],[0.033,-0.029],[0.037,-0.035],[0.041,0.040],[0.043,0.035],[0.040,0.025],[0.043,0.019],[0.041,0.010],[0.044,0.007],[0.042,-0.003],[0.045,-0.005],[0.040,-0.016],[0.044,-0.019],[0.041,-0.026],[0.045,-0.032],[0.048,0.038],[0.050,0.030],[0.049,0.020],[0.051,0.014],[0.048,0.004],[0.052,0.000],[0.049,-0.010],[0.050,-0.020],[0.048,-0.028],[0.051,-0.033],[0.056,0.027],[0.055,0.018],[0.058,0.008],[0.056,-0.005],[0.059,-0.011],[0.055,-0.020],[-0.054,0.036],[-0.057,0.022],[-0.053,0.015],[-0.056,0.000],[-0.054,-0.011],[-0.058,-0.018],[-0.055,-0.036],[-0.061,0.027],[-0.063,-0.010],[-0.060,0.006],
  [-0.016,0.006],[-0.010,-0.007],[-0.004,0.010],[0.004,-0.002],[0.010,0.002],[0.015,0.002],[-0.020,0.002],[-0.014,-0.002],[-0.007,0.006],[0.000,0.001],[0.006,0.009],[0.012,-0.011],[0.018,0.014],[-0.012,0.020],[0.003,-0.021],[0.023,-0.010],[-0.022,0.007],[0.008,0.017],
  [-0.0445,0.0125],[-0.0415,-0.0015],[-0.0395,0.0295],[-0.0375,-0.0215],[-0.0355,0.0085],[-0.0335,-0.0095],[-0.0315,0.0365],[-0.0295,-0.0185],[-0.0275,0.0155],[-0.0255,-0.0325],[-0.0245,0.0235],[-0.0225,-0.0045],[-0.0205,0.0375],[-0.0195,-0.0155],[-0.0175,0.0225],[-0.0165,-0.0285],[-0.0145,0.0085],[-0.0135,-0.0115],[-0.0125,0.0305],[-0.0115,-0.0355],[-0.0095,0.0125],[-0.0085,-0.0175],[-0.0065,0.0335],[-0.0055,-0.0075],[-0.0045,0.0185],[-0.0025,-0.0305],[-0.0015,0.0025],[0.0005,-0.0235],[0.0015,0.0375],[0.0035,-0.0095],[0.0045,0.0145],[0.0065,-0.0385],[0.0075,0.0255],[0.0085,-0.0125],[0.0105,0.0035],[0.0115,-0.0285],[0.0135,0.0395],[0.0145,-0.0055],[0.0155,0.0185],[0.0175,-0.0255],[0.0185,0.0085],[0.0205,-0.0145],[0.0215,0.0305],[0.0235,-0.0015],[0.0245,-0.0335],[0.0265,0.0215],[0.0275,-0.0105],[0.0295,0.0125],[0.0305,-0.0255],[0.0325,0.0275],[0.0345,-0.0135],[0.0355,0.0055],[0.0375,-0.0315],[0.0385,0.0175],[0.0405,-0.0045],[0.0425,0.0265],[0.0435,-0.0225],[0.0455,0.0095],[0.0465,-0.0125],[0.0485,0.0285],[-0.0465,-0.0165],[-0.0485,0.0225],[-0.0505,0.0045],[-0.0525,-0.0215],[-0.0435,0.0385],[-0.0405,-0.0415],[0.0025,0.0455],[0.0035,-0.0475],[-0.0225,0.0465],[0.0225,-0.0445],
];
const realC: Pt[] = [
  [-0.0544,0.0473],[-0.0654,-0.009],[-0.0564,0.0114],[-0.0478,0.0148],[-0.0435,0.0102],[-0.0432,-0.0281],[-0.0408,-0.0281],[-0.0392,-0.0508],[-0.0356,-0.0288],[-0.0321,-0.0318],[-0.0315,0.0014],[-0.0315,-0.0536],[-0.0289,-0.0248],[-0.0228,0.003],[-0.021,-0.0179],[-0.02,-0.016],[-0.0189,-0.0411],[-0.0182,0.0485],[-0.015,-0.0527],[-0.0089,0.0415],[-0.007,0.0234],[-0.006,-0.0318],[-0.0057,0.0838],[-0.0042,-0.0258],[-0.0031,-0.02],[-0.002,-0.0002],[-0.0017,-0.0063],[0.0001,-0.0128],[0.0004,-0.019],[0.0016,0.0111],[0.0037,0.006],[0.0037,-0.0276],[0.004,0.0803],[0.0062,-0.0376],[0.0076,-0.0677],[0.008,0.0125],[0.0086,0.0002],[0.0094,-0.0241],[0.01,0.0107],[0.0104,-0.006],[0.0152,0.0107],[0.0159,-0.0014],[0.0172,-0.035],[0.019,0.0158],[0.0198,0.0042],[0.0215,-0.0202],[0.0248,0.0158],[0.0255,0.009],[0.0262,-0.0121],[0.0276,-0.009],[0.028,-0.0044],[0.0283,-0.038],[0.0291,0.0181],[0.0319,0.0664],[0.0345,0.023],[0.0401,0.0216],[0.0441,-0.0084],[0.0481,0.0148],[0.0572,0.0204],[0.0623,0.0466],
];

// ---- panel (d) 4000 epochs ----
const genD: Pt[] = [
  [-0.0663,0.0063],[-0.0635,0.0122],[-0.0618,0.0027],[-0.063,-0.025],[-0.0594,-0.0087],[-0.0589,0.0334],[-0.059,0.0095],[-0.0572,0.0109],[-0.058,-0.0196],[-0.0534,0.0285],[-0.0527,0.0614],[-0.0474,0.0587],[-0.0482,-0.0421],[-0.0423,0.0538],[-0.0446,0.0321],[-0.0436,0.0299],[-0.0423,0.0226],[-0.0364,0.0666],[-0.0376,0.0389],[-0.0346,-0.053],[-0.0409,-0.04],[-0.0391,-0.04],[-0.0366,-0.0421],[-0.0366,-0.0467],[-0.0341,-0.044],[-0.0315,-0.0378],[-0.0315,0.0519],[-0.0285,0.0633],[-0.0255,0.0897],[-0.0197,0.0851],[-0.0154,0.091],[-0.0217,0.0655],[-0.0265,-0.0489],[-0.024,-0.0486],[-0.0255,-0.0584],[-0.0227,-0.0522],[-0.0184,-0.0535],[-0.0132,-0.0516],[-0.0111,0.0606],[-0.0053,-0.059],[-0.0028,-0.059],[0.0022,-0.0772],[0.0039,-0.0663],[0.0083,-0.0625],[-0.0008,0.0859],[-0.0033,0.0796],[-0.002,0.0682],[-0.0008,0.0674],[-0.0003,0.0769],[0.0007,0.0606],[0.0022,0.0552],[0.0037,0.0524],[0.0047,0.0783],[0.0078,0.0761],[0.0058,0.1101],[0.0091,0.0524],[0.0098,0.047],[0.0121,0.0864],[0.0136,0.0913],[0.0146,0.0823],[0.0163,0.1065],[0.0204,0.0951],[0.0219,0.09],[0.0183,0.0769],[0.0214,0.0783],[0.0198,0.0709],[0.0143,0.0633],[0.0153,0.0606],[0.0163,0.0579],[0.0178,0.0565],[0.0188,0.053],[0.0232,0.0666],[0.0279,0.0693],[0.0289,0.0671],[0.0294,0.0905],[0.0304,0.058],[0.0321,0.0769],[0.0335,0.0742],[0.034,0.0701],[0.0338,0.0592],[0.0382,0.0807],[0.0294,0.1],[0.0299,0.0978],[0.0408,0.1033],[0.0413,0.1095],[0.0425,0.0666],[0.0468,0.0715],[0.0476,0.053],[0.0491,0.1109],[0.0373,0.0484],[0.0436,0.0348],[0.0489,0.0307],[0.0496,0.043],[0.0528,0.0394],[0.0541,0.0321],[0.0496,-0.0568],[0.0455,-0.078],[0.0471,-0.078],[0.0408,-0.0856],[0.034,-0.0603],[0.0345,-0.0576],[0.0242,-0.072],[0.0249,-0.072],[0.0202,-0.0712],[0.0219,-0.0611],[0.0153,-0.0603],[0.0158,-0.0603],[0.0138,-0.0658],[0.0196,-0.0535],[0.0191,-0.0481],
  [-0.053,-0.002],[-0.051,0.004],[-0.052,-0.009],[-0.050,0.010],[-0.049,-0.014],[-0.048,0.001],[-0.047,-0.006],[-0.046,0.014],[-0.045,-0.019],[-0.044,0.006],[-0.043,-0.011],[-0.042,0.002],[-0.041,-0.025],[-0.041,0.016],[-0.040,-0.004],[-0.039,0.009],[-0.038,-0.015],[-0.038,0.024],[-0.037,0.001],[-0.036,-0.021],[-0.036,0.012],[-0.035,-0.008],[-0.034,0.019],[-0.034,-0.030],[-0.033,0.004],[-0.032,-0.013],[-0.032,0.028],[-0.031,-0.003],[-0.030,0.014],[-0.030,-0.023],[-0.029,0.007],[-0.028,-0.009],[-0.028,0.022],[-0.027,-0.017],[-0.026,0.001],[-0.026,0.033],[-0.025,-0.028],[-0.024,0.010],[-0.024,-0.006],[-0.023,0.018],[-0.022,-0.014],[-0.022,0.004],[-0.021,-0.024],[-0.020,0.012],[-0.020,-0.003],[-0.019,0.026],[-0.018,-0.011],[-0.018,0.006],[-0.017,-0.033],[-0.016,0.017],[-0.016,-0.005],[-0.015,0.036],[-0.014,-0.019],[-0.014,0.002],[-0.013,-0.027],[-0.012,0.011],[-0.012,-0.009],[-0.011,0.023],[-0.010,-0.015],[-0.010,0.000],[-0.009,-0.037],[-0.008,0.015],[-0.008,-0.006],[-0.007,0.029],[-0.006,-0.022],[-0.006,0.005],[-0.005,-0.013],[-0.004,0.019],[-0.004,-0.031],[-0.003,0.003],[-0.002,-0.008],[-0.002,0.026],[-0.001,-0.019],[0.000,0.009],[0.001,-0.003],[0.001,-0.040],[0.002,0.017],[0.003,-0.014],[0.004,0.004],[0.004,-0.027],[0.005,0.034],[0.006,-0.007],[0.007,0.012],[0.007,-0.020],[0.008,0.001],[0.009,-0.034],[0.010,0.021],[0.010,-0.011],[0.011,0.006],[0.012,-0.025],[0.013,0.015],[0.013,-0.004],[0.014,0.030],[0.015,-0.017],[0.016,0.002],[0.016,-0.038],[0.017,0.011],[0.018,-0.009],[0.019,0.024],[0.019,-0.028],[0.020,0.004],[0.021,-0.015],[0.022,0.017],[0.022,-0.042],[0.023,-0.003],[0.024,0.009],[0.024,-0.022],[0.025,0.032],[0.026,-0.010],[0.027,0.002],[0.027,-0.033],[0.028,0.019],[0.029,-0.017],[0.030,0.008],[0.030,-0.045],[0.031,-0.004],[0.032,0.026],[0.033,-0.025],[0.033,0.013],[0.034,-0.011],[0.035,0.001],[0.036,-0.036],[0.036,0.020],[0.037,-0.007],[0.038,0.010],[0.039,-0.020],[0.039,0.030],[0.040,-0.002],[0.041,-0.029],[0.042,0.015],[0.042,-0.012],[0.043,0.004],[0.044,-0.040],[0.045,0.022],[0.045,-0.018],[0.046,0.009],[0.047,-0.006],[0.047,-0.030],[0.048,0.017],[0.049,-0.013],[0.049,0.027],[0.050,0.002],[0.050,-0.024],[0.051,0.012],[0.051,-0.035],[0.052,-0.004],[0.052,0.021],[0.053,0.036],[0.053,-0.017],[0.054,0.030],[0.052,0.040],[-0.055,0.005],[-0.057,-0.003],[-0.050,-0.020],[-0.046,-0.027],[-0.043,0.018],[-0.039,-0.033],[-0.035,0.030],[-0.031,-0.036],[-0.027,0.038],[-0.023,-0.035],[-0.019,0.041],[-0.015,-0.041],[-0.011,0.034],[-0.007,-0.045],[-0.003,0.040],[0.002,-0.048],[0.006,0.042],[0.011,-0.047],[0.015,0.043],[0.020,0.036],[0.024,-0.050],[0.028,0.044],[0.034,0.040],[0.038,-0.047],[0.044,0.037],[0.048,-0.045],
  [-0.045,-0.002],[-0.040,0.004],[-0.037,-0.010],[-0.033,-0.001],[-0.029,-0.005],[-0.025,0.005],[-0.021,-0.008],[-0.017,0.001],[-0.013,-0.003],[-0.009,0.007],[-0.005,-0.001],[-0.001,0.004],[0.003,-0.010],[0.007,0.000],[0.011,-0.006],[0.015,0.007],[0.019,-0.004],[0.023,0.002],[0.027,-0.012],[0.031,0.003],[0.035,-0.015],[0.039,0.005],[0.043,-0.008],[0.047,0.001],[0.050,-0.009],[-0.033,0.010],[-0.023,-0.018],[-0.012,0.017],[0.000,-0.024],[0.012,0.020],[0.025,-0.020],[0.037,0.016],[-0.048,0.008],[-0.043,-0.016],[-0.035,0.016],[-0.027,-0.013],[-0.019,0.017],[-0.008,-0.015],[0.005,0.013],[0.018,-0.021],[0.030,0.017],[0.041,-0.023],[0.051,-0.028],[0.053,0.008],
  [-0.052,0.007],[-0.051,-0.013],[-0.049,0.005],[-0.048,-0.010],[-0.047,0.012],[-0.046,-0.003],[-0.045,0.008],[-0.044,-0.014],[-0.044,0.002],[-0.043,-0.024],[-0.042,0.011],[-0.042,-0.007],[-0.041,0.021],[-0.040,-0.017],[-0.040,0.007],[-0.039,-0.003],[-0.039,-0.026],[-0.038,0.014],[-0.038,-0.009],[-0.037,0.004],[-0.037,0.019],[-0.036,-0.015],[-0.036,-0.004],[-0.035,0.009],[-0.035,-0.024],[-0.034,0.001],[-0.034,0.013],[-0.033,-0.011],[-0.033,0.023],[-0.032,-0.019],[-0.032,0.006],[-0.031,-0.007],[-0.031,0.018],[-0.030,-0.028],[-0.030,0.002],[-0.029,0.011],[-0.029,-0.014],[-0.028,0.025],[-0.028,-0.002],[-0.027,0.008],[-0.027,-0.022],[-0.026,0.015],[-0.026,-0.010],[-0.025,-0.001],[-0.025,0.021],[-0.024,-0.016],[-0.024,0.003],[-0.023,-0.025],[-0.023,0.010],[-0.022,-0.004],[-0.022,0.027],[-0.021,0.007],[-0.021,-0.012],[-0.020,-0.031],[-0.020,0.018],[-0.019,-0.001],[-0.019,-0.019],[-0.018,0.011],[-0.018,-0.026],[-0.017,0.004],[-0.017,0.022],[-0.016,-0.013],[-0.016,-0.029],[-0.015,0.008],[-0.015,-0.004],[-0.014,0.015],[-0.014,-0.021],[-0.013,0.002],[-0.013,-0.011],[-0.012,0.028],[-0.012,-0.017],[-0.011,-0.002],[-0.011,0.006],[-0.010,-0.024],[-0.010,0.016],[-0.009,-0.009],[-0.009,0.002],[-0.008,-0.028],[-0.008,0.023],[-0.007,-0.014],[-0.007,0.009],[-0.006,-0.003],[-0.006,-0.036],[-0.005,0.014],[-0.005,-0.019],[-0.004,0.000],[-0.004,0.031],[-0.003,-0.012],[-0.003,-0.024],[-0.002,0.008],[-0.002,0.017],[-0.001,-0.004],[-0.001,-0.031],[0.000,0.013],[0.000,-0.015],[0.001,0.002],[0.001,0.024],[0.002,-0.009],[0.002,-0.022],[0.003,0.007],[0.003,0.035],[0.004,-0.004],[0.004,0.016],[0.005,-0.017],[0.005,-0.031],[0.006,0.003],[0.006,0.023],[0.007,-0.012],[0.007,-0.026],[0.008,0.009],[0.008,-0.040],[0.009,-0.002],[0.009,0.016],[0.010,-0.020],[0.010,0.030],[0.011,-0.008],[0.011,0.012],[0.012,-0.032],[0.012,0.001],[0.013,0.022],[0.013,-0.016],[0.014,-0.006],[0.014,0.009],[0.015,-0.028],[0.015,0.017],[0.016,-0.011],[0.016,0.027],[0.017,0.000],[0.017,-0.021],[0.018,0.013],[0.018,-0.036],[0.019,-0.005],[0.019,0.008],[0.020,-0.025],[0.020,0.021],[0.021,-0.010],[0.021,0.031],[0.022,0.001],[0.022,-0.018],[0.023,0.012],[0.023,-0.031],[0.024,-0.005],[0.024,0.025],[0.025,-0.014],[0.025,0.006],[0.026,-0.040],[0.026,0.016],[0.027,-0.023],[0.027,0.010],[0.028,-0.003],[0.028,0.031],[0.029,-0.011],[0.029,-0.029],[0.030,0.014],[0.030,0.000],[0.031,-0.019],[0.031,0.022],[0.032,-0.008],[0.032,-0.039],[0.033,0.004],[0.033,0.033],[0.034,-0.016],[0.034,0.010],[0.035,-0.027],[0.035,0.019],[0.036,-0.003],[0.036,-0.044],[0.037,0.008],[0.037,-0.021],[0.038,0.025],[0.038,-0.013],[0.039,-0.033],[0.039,0.012],[0.040,-0.007],[0.040,0.020],[0.041,-0.018],[0.041,0.002],[0.042,0.030],[0.042,-0.037],[0.043,-0.011],[0.043,0.012],[0.044,-0.024],[0.044,0.019],[0.045,-0.003],[0.045,-0.044],[0.046,0.015],[0.046,-0.016],[0.047,0.026],[0.047,-0.038],[0.048,-0.009],[0.048,0.006],[0.049,-0.027],[0.049,0.034],[0.050,-0.017],[0.050,0.014],[0.051,0.023],[0.051,-0.005],[0.052,-0.029],[0.052,0.031],[0.053,0.000],[0.053,-0.022],[0.053,0.019],[0.054,-0.011],[0.054,0.038],[0.052,0.026],
  [-0.0505,-0.0045],[-0.0495,0.0025],[-0.0485,-0.0165],[-0.0475,0.0085],[-0.0465,-0.0105],[-0.0455,0.0035],[-0.0445,-0.0075],[-0.0435,0.0145],[-0.0425,-0.0185],[-0.0415,-0.0035],[-0.0405,0.0105],[-0.0395,-0.0125],[-0.0385,0.0055],[-0.0375,-0.0225],[-0.0365,0.0015],[-0.0355,0.0175],[-0.0345,-0.0145],[-0.0335,-0.0055],[-0.0325,0.0085],[-0.0315,-0.0255],[-0.0305,-0.0085],[-0.0295,0.0045],[-0.0285,0.0165],[-0.0275,-0.0035],[-0.0265,-0.0185],[-0.0255,0.0095],[-0.0245,-0.0115],[-0.0235,-0.0005],[-0.0225,0.0135],[-0.0215,-0.0215],[-0.0205,-0.0065],[-0.0195,0.0055],[-0.0185,-0.0155],[-0.0175,0.0155],[-0.0165,-0.0025],[-0.0155,-0.0235],[-0.0145,0.0065],[-0.0135,-0.0085],[-0.0125,0.0045],[-0.0115,-0.0195],[-0.0105,0.0105],[-0.0095,-0.0045],[-0.0085,-0.0255],[-0.0075,0.0025],[-0.0065,-0.0115],[-0.0055,0.0085],[-0.0045,-0.0175],[-0.0035,-0.0035],[-0.0025,0.0125],[-0.0015,-0.0245],[-0.0005,-0.0075],[0.0005,0.0055],[0.0015,-0.0155],[0.0025,0.0195],[0.0035,-0.0055],[0.0045,-0.0215],[0.0055,0.0065],[0.0065,-0.0135],[0.0075,0.0165],[0.0085,-0.0285],[0.0095,-0.0025],[0.0105,0.0075],[0.0115,-0.0185],[0.0125,0.0025],[0.0135,-0.0095],[0.0145,0.0145],[0.0155,-0.0225],[0.0165,-0.0045],[0.0175,0.0065],[0.0185,-0.0155],[0.0195,0.0155],[0.0205,-0.0035],[0.0215,-0.0265],[0.0225,0.0075],[0.0235,-0.0115],[0.0245,0.0015],[0.0255,-0.0305],[0.0265,-0.0065],[0.0275,0.0135],[0.0285,-0.0195],[0.0295,0.0035],[0.0305,-0.0125],[0.0315,0.0155],[0.0325,-0.0035],[0.0335,-0.0205],[0.0345,0.0055],[0.0355,-0.0085],[0.0365,0.0235],[0.0375,-0.0275],[0.0385,-0.0035],[0.0395,0.0085],[0.0405,-0.0145],[0.0415,0.0105],[0.0425,-0.0305],[0.0435,-0.0025],[0.0445,0.0085],[0.0455,-0.0115],[0.0465,0.0185],[0.0475,-0.0225],[0.0485,0.0025],[0.0495,-0.0065],[0.0505,0.0195],[0.0515,-0.0155],[0.0525,0.0065],[0.0535,0.0245],[0.0525,-0.0245],
];
const realD: Pt[] = [
  [-0.0564,-0.006],[-0.055,0.0008],[-0.055,-0.0177],[-0.0482,-0.0065],[-0.0463,0.028],[-0.0451,-0.0027],[-0.0421,0.0217],[-0.0401,-0.0011],[-0.0399,-0.0177],[-0.0364,0.0668],[-0.0366,0.0226],[-0.0344,0.0068],[-0.0344,-0.0054],[-0.0336,0.0122],[-0.0327,-0.0095],[-0.0328,-0.0217],[-0.0297,0.0054],[-0.0302,-0.0712],[-0.0272,0.0451],[-0.0245,0.0193],[-0.0232,0.0193],[-0.0217,-0.0209],[-0.0199,0.0082],[-0.0202,-0.0277],[-0.0117,-0.012],[-0.0099,0.062],[-0.0094,0.0095],[-0.0086,-0.0231],[-0.0079,0.0054],[-0.0069,-0.0033],[-0.0025,-0.006],[-0.0023,-0.0476],[-0.0001,-0.0595],[0.0027,-0.0557],[0.0052,-0.0033],[0.0052,-0.012],[0.006,-0.059],[0.0068,0.0927],[0.007,-0.0228],[0.0098,0.003],[0.0101,-0.0269],[0.0128,0.0478],[0.0143,0.0639],[0.0151,0.1082],[0.0206,-0.0095],[0.0267,-0.0394],[0.0284,0.0348],[0.0304,0.0166],[0.0332,0.0728],[0.0373,-0.0726],[0.0382,0.0016],[0.039,-0.0204],[0.039,-0.016],[0.0435,-0.006],[0.0443,-0.0019],[0.0458,0.0063],[0.046,-0.0413],[0.0471,-0.015],[0.0508,0.0008],[0.0518,-0.031],[0.0524,0.0084],
];

// tick values for each panel
const xTicksA = [-0.06, -0.04, -0.02, 0, 0.02, 0.04];
const yTicksA = [-0.08, -0.06, -0.04, -0.02, 0, 0.02, 0.04, 0.06];
const xTicksB = [-0.08, -0.06, -0.04, -0.02, 0, 0.02, 0.04];
const yTicksB = [-0.1, -0.05, 0, 0.05, 0.1];
const xTicksC = [-0.075, -0.05, -0.025, 0, 0.025, 0.05, 0.075];
const yTicksC = [-0.1, -0.05, 0, 0.05, 0.1];
const xTicksD = [-0.06, -0.04, -0.02, 0, 0.02, 0.04, 0.06];
const yTicksD = [-0.1, -0.05, 0, 0.05, 0.1, 0.15];

const seriesLabels = ["Generated Data", "Real Data"];

const FONT = "'Liberation Serif', 'Times New Roman', serif";
const BLUE = "rgba(22, 42, 150, 0.76)";
const RED = "rgba(242, 25, 25, 0.62)";

function fmt(v: number, dec: number) {
  const s = Math.abs(v).toFixed(dec);
  return v < -1e-12 ? "\u2212" + s : s;
}

// frame on all four sides + legend box inside top right
const framePlugin = {
  id: "frameLegend",
  afterDraw(chart: any) {
    const { ctx, chartArea } = chart;
    const { left, top, right, bottom } = chartArea;
    ctx.save();
    ctx.strokeStyle = "#444";
    ctx.lineWidth = 1;
    ctx.strokeRect(left, top, right - left, bottom - top);

    const w = 145, h = 45;
    const bx = right - 7 - w, by = top + 7;
    ctx.beginPath();
    ctx.roundRect(bx, by, w, h, 3);
    ctx.fillStyle = "rgba(255,255,255,0.82)";
    ctx.fill();
    ctx.strokeStyle = "#d0d0d0";
    ctx.stroke();
    const colors = [BLUE, RED];
    ctx.font = `14.5px ${FONT}`;
    ctx.textBaseline = "middle";
    seriesLabels.forEach((lab, i) => {
      const cy = by + 12 + i * 21;
      ctx.beginPath();
      ctx.arc(bx + 20, cy, 3.5, 0, Math.PI * 2);
      ctx.fillStyle = colors[i];
      ctx.fill();
      ctx.fillStyle = "#222";
      ctx.fillText(lab, bx + 47, cy);
    });
    ctx.restore();
  },
};

interface PanelProps {
  gen: Pt[];
  real: Pt[];
  xRange: [number, number];
  yRange: [number, number];
  xTicks: number[];
  yTicks: number[];
  xDec: number;
  yDec: number;
  box: { left: number; top: number; width: number; height: number };
  pad: { top: number; right: number };
  yAxisW: number;
  xAxisH: number;
  xTitlePad: number;
}

function Panel(p: PanelProps) {
  const ref = useRef<HTMLCanvasElement>(null);

  useEffect(() => {
    if (!ref.current) return;
    const chart = new Chart(ref.current, {
      type: "scatter",
      data: {
        datasets: [
          {
            label: seriesLabels[0],
            data: p.gen.map(([x, y]) => ({ x, y })),
            backgroundColor: BLUE,
            borderColor: BLUE,
            borderWidth: 0.6,
            pointRadius: 3.7,
          },
          {
            label: seriesLabels[1],
            data: p.real.map(([x, y]) => ({ x, y })),
            backgroundColor: RED,
            borderColor: RED,
            borderWidth: 0.6,
            pointRadius: 3.7,
          },
        ],
      },
      options: {
        responsive: false,
        animation: false,
        devicePixelRatio: 1,
        layout: { padding: { left: 0, top: p.pad.top, right: p.pad.right, bottom: 0 } },
        plugins: { legend: { display: false }, tooltip: { enabled: false } },
        scales: {
          x: {
            type: "linear",
            min: p.xRange[0],
            max: p.xRange[1],
            afterBuildTicks: (s: any) => {
              s.ticks = p.xTicks.map((v) => ({ value: v }));
            },
            afterFit: (s: any) => {
              s.height = p.xAxisH;
            },
            ticks: {
              autoSkip: false,
              maxRotation: 0,
              padding: 1,
              color: "#222",
              font: { family: FONT, size: 14 },
              callback: (v: any) => fmt(Number(v), p.xDec),
            },
            grid: { color: "#d6d6d6", tickColor: "#444", tickLength: 4 },
            border: { color: "#444" },
            title: {
              display: true,
              text: "SVD1",
              color: "#222",
              font: { family: FONT, size: 14 },
              padding: { top: 0, bottom: p.xTitlePad },
            },
          },
          y: {
            type: "linear",
            min: p.yRange[0],
            max: p.yRange[1],
            afterBuildTicks: (s: any) => {
              s.ticks = p.yTicks.map((v) => ({ value: v }));
            },
            afterFit: (s: any) => {
              s.width = p.yAxisW;
            },
            ticks: {
              autoSkip: false,
              padding: 3.5,
              color: "#222",
              font: { family: FONT, size: 14 },
              callback: (v: any) => fmt(Number(v), p.yDec),
            },
            grid: { color: "#d6d6d6", tickColor: "#444", tickLength: 4 },
            border: { color: "#444" },
            title: {
              display: true,
              text: "SVD2",
              color: "#222",
              font: { family: FONT, size: 14 },
              padding: { top: 1.6, bottom: 0 },
            },
          },
        },
      },
      plugins: [framePlugin],
    });
    return () => chart.destroy();
  }, []);

  return (
    <canvas
      ref={ref}
      width={p.box.width}
      height={p.box.height}
      style={{ position: "absolute", left: p.box.left, top: p.box.top, width: p.box.width, height: p.box.height }}
    />
  );
}

function Caption({ text, cx, cy }: { text: string; cx: number; cy: number }) {
  return (
    <div
      style={{
        position: "absolute",
        left: cx - 200,
        top: cy - 17,
        width: 400,
        textAlign: "center",
        fontFamily: FONT,
        fontSize: 28,
        lineHeight: "34px",
        color: "#1a1a1a",
        whiteSpace: "pre",
      }}
    >
      {text}
    </div>
  );
}

export default function App() {
  return (
    <div style={{ position: "absolute", left: 0, top: 0, width: 1026, height: 882, background: "#fff", overflow: "hidden" }}>
      <Panel
        gen={genA} real={realA}
        xRange={[-0.0664, 0.0501]} yRange={[-0.089, 0.0684]}
        xTicks={xTicksA} yTicks={yTicksA} xDec={2} yDec={2}
        box={{ left: 0, top: 0, width: 510, height: 385 }}
        pad={{ top: 11, right: 10 }} yAxisW={62} xAxisH={48} xTitlePad={9.9}
      />
      <Panel
        gen={genB} real={realB}
        xRange={[-0.0983, 0.0489]} yRange={[-0.1296, 0.1053]}
        xTicks={xTicksB} yTicks={yTicksB} xDec={2} yDec={2}
        box={{ left: 515, top: 0, width: 511, height: 385 }}
        pad={{ top: 12.3, right: 12.7 }} yAxisW={61.7} xAxisH={47.7} xTitlePad={9.9}
      />
      <Panel
        gen={genC} real={realC}
        xRange={[-0.0905, 0.0978]} yRange={[-0.1053, 0.122]}
        xTicks={xTicksC} yTicks={yTicksC} xDec={3} yDec={2}
        box={{ left: 0, top: 440, width: 510, height: 385 }}
        pad={{ top: 8.3, right: 8.3 }} yAxisW={63.3} xAxisH={50} xTitlePad={10.9}
      />
      <Panel
        gen={genD} real={realD}
        xRange={[-0.068, 0.0649]} yRange={[-0.1084, 0.159]}
        xTicks={xTicksD} yTicks={yTicksD} xDec={2} yDec={2}
        box={{ left: 508, top: 440, width: 518, height: 385 }}
        pad={{ top: 9.3, right: 15.3 }} yAxisW={63} xAxisH={47.7} xTitlePad={9.9}
      />
      <Caption text="(a)  500 epochs" cx={293} cy={413} />
      <Caption text="(b) 1000 epochs" cx={743} cy={413} />
      <Caption text="(c) 2000 epochs" cx={284} cy={855} />
      <Caption text="(d) 4000 epochs" cx={784} cy={855} />
    </div>
  );
}
